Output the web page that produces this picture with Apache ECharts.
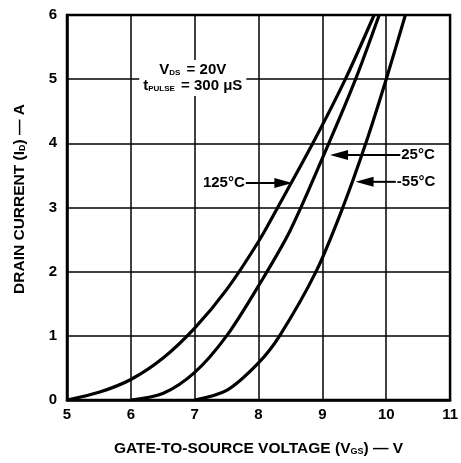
<!DOCTYPE html>
<html><head><meta charset="utf-8">
<script src="https://cdn.jsdelivr.net/npm/echarts@6/dist/echarts.min.js"></script>
<style>html,body{margin:0;padding:0;background:#fff}#c{width:461px;height:463px}</style>
</head><body><div id="c"></div>
<script>
const xTicks = [5,6,7,8,9,10,11];
const yTicks = [0,1,2,3,4,5,6];
const vgs125 = [5,5.5,6,6.5,7,7.5,8,8.3,8.85,9.36,9.81];
const id125  = [0,0.12,0.32,0.65,1.12,1.72,2.47,3,4,5,6];
const vgs25  = [6,6.5,7,7.5,8,8.5,9.1,9.52,9.89];
const id25   = [0,0.1,0.43,1.0,1.78,2.65,4,5,6];
const vgsm55 = [7,7.5,8,8.33,8.9,9.32,9.68,10.0,10.3];
const idm55  = [0,0.15,0.58,1,2,3,4,5,6];
const labels = ['125°C','25°C','-55°C'];

const FONT = 'Liberation Sans, Arial, sans-serif';
function pairs(xs, ys){ return xs.map((x,i)=>[x, ys[i]]); }
const chart = echarts.init(document.getElementById('c'));
const lineStyle = {color:'#000', width:3.2};
function ser(name, xs, ys){
  return {name, type:'line', data:pairs(xs,ys), smooth:0.3,
    showSymbol:false, lineStyle, z:5};
}
chart.setOption({
  animation:false,
  grid:{left:67, right:8, top:15, bottom:63, show:true, borderColor:'#000', borderWidth:2.5},
  xAxis:{type:'value', min:xTicks[0], max:xTicks[xTicks.length-1], interval:1,
    axisLine:{show:true, lineStyle:{color:'#000', width:2.5}},
    axisTick:{show:false},
    splitLine:{show:true, lineStyle:{color:'#000', width:1.5}},
    axisLabel:{color:'#000', fontFamily:FONT, fontWeight:'bold', fontSize:15, margin:7},
    name:'GATE-TO-SOURCE VOLTAGE (V{s|GS}) — V', nameLocation:'middle', nameGap:41,
    nameTextStyle:{color:'#000', fontFamily:FONT, fontWeight:'bold', fontSize:15.5,
      rich:{s:{fontSize:9, fontWeight:'bold', fontFamily:FONT, padding:[6,0,0,0]}}}
  },
  yAxis:{type:'value', min:yTicks[0], max:yTicks[yTicks.length-1], interval:1,
    axisLine:{show:true, lineStyle:{color:'#000', width:2.5}},
    axisTick:{show:false},
    splitLine:{show:true, lineStyle:{color:'#000', width:1.5}},
    axisLabel:{color:'#000', fontFamily:FONT, fontWeight:'bold', fontSize:15, margin:10}
  },
  series:[ser(labels[0],vgs125,id125), ser(labels[1],vgs25,id25), ser(labels[2],vgsm55,idm55)]
});

function px(x,y){ return chart.convertToPixel({gridIndex:0},[x,y]); }
const arrowDefs = [
  // [label, textX, y, tailX, tipX, align]
  [labels[0], 7.8, 3.38, 7.8, 8.53, 'right'],
  [labels[1], 10.22, 3.82, 10.22, 9.12, 'left'],
  [labels[2], 10.15, 3.40, 10.15, 9.52, 'left']
];
const g = [];
arrowDefs.forEach(a=>{
  const t = px(a[1], a[2]);
  const tail = px(a[3], a[2]);
  const tip = px(a[4], a[2]);
  const dir = tip[0] > tail[0] ? 1 : -1;
  g.push({type:'line', shape:{x1:tail[0], y1:tail[1], x2:tip[0]-dir*14, y2:tip[1]},
    style:{stroke:'#000', lineWidth:2}, z:10});
  g.push({type:'polygon', shape:{points:[[tip[0],tip[1]],[tip[0]-dir*18,tip[1]-5],[tip[0]-dir*18,tip[1]+5]]},
    style:{fill:'#000'}, z:10});
  g.push({type:'text', x:t[0]+(a[5]==='left'?1:-1), y:t[1],
    style:{text:a[0], fill:'#000', font:'bold 15px '+FONT, align:a[5], verticalAlign:'middle'}, z:10});
});
const c1 = px(6.97, 5.02);
g.push({type:'text', x:c1[0], y:c1[1], style:{
  text:'{n|V}{s|DS}{n| = 20V}\n{n|t}{s|PULSE}{n| = 300 μS}',
  align:'center', verticalAlign:'middle', fill:'#000',
  rich:{n:{font:'bold 15px '+FONT, fill:'#000', lineHeight:16},
        s:{font:'bold 8px '+FONT, fill:'#000', padding:[5,2,0,0], lineHeight:16}},
  backgroundColor:'#fff', padding:[2,4]}, z:8});
// y-axis title
g.push({type:'text', x:20, y:199, rotation:Math.PI/2, style:{
  text:'DRAIN CURRENT (I{s|D}) — A', align:'center', verticalAlign:'middle', fill:'#000',
  font:'bold 15.5px '+FONT,
  rich:{s:{font:'bold 9px '+FONT, fill:'#000', padding:[6,0,0,0]}}}, z:10});
chart.setOption({graphic:g});
</script></body></html>
